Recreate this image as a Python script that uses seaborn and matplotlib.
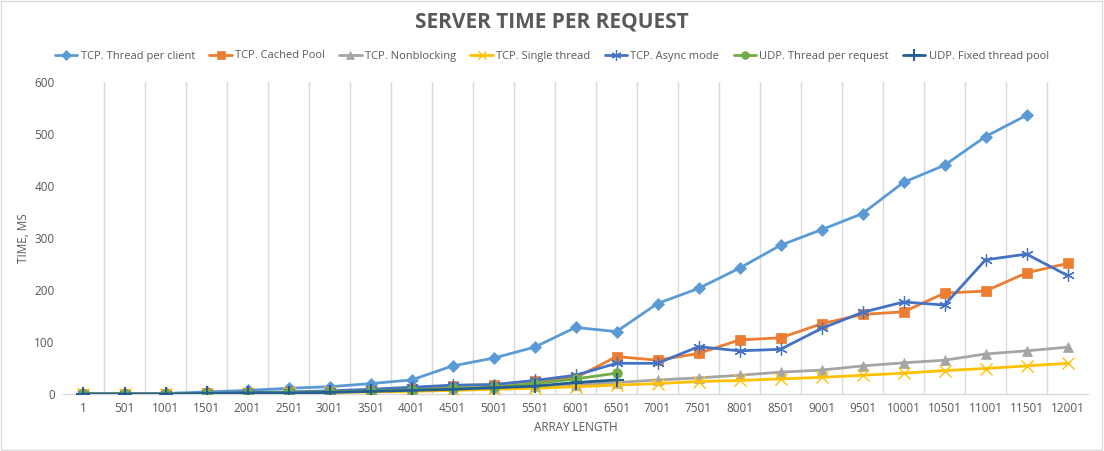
import numpy as np
import pandas as pd
import matplotlib
matplotlib.use("Agg")
import matplotlib.pyplot as plt
import seaborn as sns

nan = np.nan
array_length = list(range(1, 12002, 500))

tcp_thread_per_client = [0, 0, 1, 4, 7, 11, 14, 20, 27, 54, 69, 90, 128, 120, 174, 203, 242, 286, 316, 347, 407, 440, 495, 536, nan]
tcp_cached_pool = [0, 0, 0, 1, 2, 3, 4, 6, 9, 16, 18, 25, 31, 72, 65, 78, 104, 108, 135, 153, 158, 194, 198, 233, 251]
tcp_nonblocking = [0, 0, 0, 1, 2, 3, 4, 5, 7, 10, 12, 15, 18, 22, 27, 31, 36, 42, 46, 54, 60, 65, 77, 83, 90]
tcp_single_thread = [0, 0, 0, 0, 1, 2, 3, 4, 5, 7, 9, 11, 14, 17, 20, 24, 26, 29, 32, 36, 40, 45, 49, 54, 59]
tcp_async_mode = [0, 0, 0, 1, 3, 4, 6, 9, 13, 17, 18, 26, 36, 59, 59, 91, 83, 86, 126, 157, 177, 171, 258, 269, 228]
udp_thread_per_request = [0, 0, 0, 1, 2, 3, 4, 6, 8, 11, 13, 20, 29, 40] + [nan] * 11
udp_fixed_thread_pool = [0, 0, 0, 1, 2, 2, 3, 5, 7, 9, 12, 15, 22, 27] + [nan] * 11

series_names = ["TCP. Thread per client", "TCP. Cached Pool", "TCP. Nonblocking",
                "TCP. Single thread", "TCP. Async mode", "UDP. Thread per request",
                "UDP. Fixed thread pool"]
series_values = [tcp_thread_per_client, tcp_cached_pool, tcp_nonblocking,
                 tcp_single_thread, tcp_async_mode, udp_thread_per_request,
                 udp_fixed_thread_pool]
y_ticks = [0, 100, 200, 300, 400, 500, 600]

colors = ["#5B9BD5", "#ED7D31", "#A5A5A5", "#FFC000", "#4472C4", "#70AD47", "#255E91"]
markers = ["D", "s", "^", "x", (6, 2, 0), "o", "+"]
msizes = [6, 7, 7, 8, 9, 7, 10]
medges = [0.5, 0.5, 0.5, 1.0, 0.9, 0.5, 1.5]

sns.set_theme(style="white")
plt.rcParams["font.family"] = ["Open Sans", "DejaVu Sans"]

fig = plt.figure(figsize=(11.04, 4.51), dpi=100)
ax = fig.add_axes([63 / 1104, 1 - 394 / 451, (1088 - 63) / 1104, (394 - 82) / 451])

for name, vals, c, m, ms, me in zip(series_names, series_values, colors, markers, msizes, medges):
    df = pd.DataFrame({"x": array_length, "y": vals}).dropna()
    sns.lineplot(data=df, x="x", y="y", ax=ax, color=c, marker=m, markersize=ms,
                 markeredgecolor=c, markeredgewidth=me,
                 linewidth=2, label=name, zorder=3)

ax.set_xlim(array_length[0] - 250, array_length[-1] + 250)
ax.set_ylim(0, 600)
ax.set_xticks(array_length)
ax.set_xticklabels([str(v) for v in array_length], fontsize=8.5, color="#595959")
ax.set_yticks(y_ticks)
ax.set_yticklabels([str(v) for v in y_ticks], fontsize=8.5, color="#595959")
bounds = [v + 250 for v in array_length[:-1]]
ax.set_xticks(bounds, minor=True)
ax.grid(False)
ax.xaxis.grid(True, which="minor", color="#D9D9D9", linewidth=1)
ax.tick_params(axis="both", which="both", length=0, pad=6)
for s in ["left", "top", "right"]:
    ax.spines[s].set_visible(False)
ax.spines["bottom"].set_color("#D9D9D9")
ax.spines["bottom"].set_linewidth(1)

ax.set_xlabel("ARRAY LENGTH", fontsize=8.5, color="#595959", labelpad=4)
ax.set_ylabel("TIME, MS", fontsize=8.5, color="#595959", labelpad=3)

fig.text(0.5, 1 - 22 / 451, "SERVER TIME PER REQUEST", ha="center", va="center",
         fontsize=15, fontweight="bold", color="#595959")

handles, labels = ax.get_legend_handles_labels()
ax.legend_.remove()
fig.legend(handles, labels, loc="center", bbox_to_anchor=(0.5, 1 - 56 / 451), ncol=7,
           frameon=False, fontsize=8, labelcolor="#595959", handlelength=2.0,
           columnspacing=1.3, handletextpad=0.3, markerscale=0.8)

fig.patches.append(plt.Rectangle((0.001, 0.002), 0.997, 0.995, transform=fig.transFigure,
                                 fill=False, edgecolor="#D9D9D9", linewidth=1))

fig.savefig("out.png", dpi=100)
